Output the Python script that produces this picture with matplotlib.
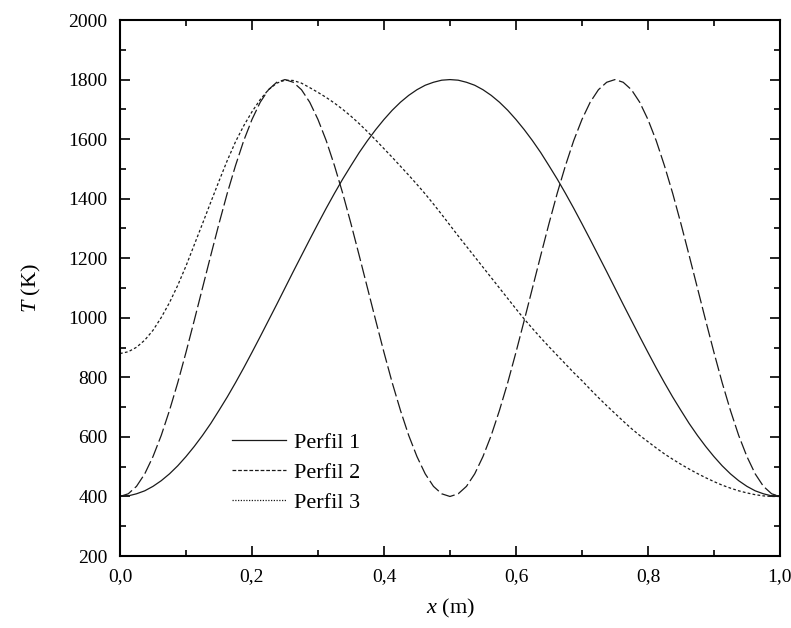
import matplotlib
matplotlib.use("Agg")
import matplotlib.pyplot as plt
from matplotlib.lines import Line2D
from matplotlib.ticker import MultipleLocator

plt.rcParams["font.family"] = ["Liberation Serif", "DejaVu Serif"]
plt.rcParams["mathtext.fontset"] = "custom"
plt.rcParams["mathtext.rm"] = "Liberation Serif"
plt.rcParams["mathtext.it"] = "Liberation Serif:italic"

# positions along x (m), every 0.0125
x = [i / 80 for i in range(81)]

# Perfil 1: single hump, 400 K at the ends, 1800 K at the middle
perfil_1 = [400, 402, 409, 419, 434, 453, 476, 503, 534, 568,
            605, 645, 689, 734, 782, 832, 884, 937, 991, 1045,
            1100, 1155, 1209, 1263, 1316, 1368, 1418, 1466, 1511, 1555,
            1595, 1632, 1666, 1697, 1724, 1747, 1766, 1781, 1791, 1798,
            1800, 1798, 1791, 1781, 1766, 1747, 1724, 1697, 1666, 1632,
            1595, 1555, 1511, 1466, 1418, 1368, 1316, 1263, 1209, 1155,
            1100, 1045, 991, 937, 884, 832, 782, 734, 689, 645,
            605, 568, 534, 503, 476, 453, 434, 419, 409, 402, 400]

# Perfil 2: two humps at x = 0.25 and 0.75
perfil_2 = [400, 409, 434, 476, 534, 605, 689, 782, 884, 991,
            1100, 1209, 1316, 1418, 1511, 1595, 1666, 1724, 1766, 1791,
            1800, 1791, 1766, 1724, 1666, 1595, 1511, 1418, 1316, 1209,
            1100, 991, 884, 782, 689, 605, 534, 476, 434, 409,
            400, 409, 434, 476, 534, 605, 689, 782, 884, 991,
            1100, 1209, 1316, 1418, 1511, 1595, 1666, 1724, 1766, 1791,
            1800, 1791, 1766, 1724, 1666, 1595, 1511, 1418, 1316, 1209,
            1100, 991, 884, 782, 689, 605, 534, 476, 434, 409, 400]

# Perfil 3: starts at 880 K, peak near x = 0.25, slow decay to 400 K
perfil_3 = [880, 886, 901, 925, 958, 1001, 1051, 1109, 1174, 1245,
            1316, 1388, 1459, 1528, 1591, 1645, 1692, 1733, 1766, 1788,
            1798, 1797, 1788, 1773, 1757, 1740, 1721, 1700, 1677, 1652,
            1625, 1597, 1568, 1539, 1509, 1479, 1448, 1416, 1382, 1347,
            1311, 1275, 1240, 1205, 1170, 1135, 1100, 1065, 1030, 996,
            964, 933, 903, 874, 845, 816, 789, 760, 732, 705,
            679, 653, 628, 605, 584, 563, 543, 525, 508, 492,
            477, 463, 450, 438, 428, 419, 412, 406, 402, 400, 400]

labels = ["Perfil 1", "Perfil 2", "Perfil 3"]
xtick_vals = [0.0, 0.2, 0.4, 0.6, 0.8, 1.0]
xtick_labels = ["0,0", "0,2", "0,4", "0,6", "0,8", "1,0"]
ytick_vals = [200, 400, 600, 800, 1000, 1200, 1400, 1600, 1800, 2000]

fig = plt.figure(figsize=(7.91, 6.28), dpi=100)
ax = fig.add_axes([0.1517, 0.1146, 0.8343, 0.8535])

ax.plot(x, perfil_1, color="#1a1a1a", lw=0.9, linestyle="-")
ax.plot(x, perfil_2, color="#1a1a1a", lw=0.9, linestyle=(0, (11, 3)))
ax.plot(x, perfil_3, color="#1a1a1a", lw=0.9, linestyle=(0, (2.2, 1.8)))

ax.set_xlim(0, 1)
ax.set_ylim(200, 2000)
ax.set_xticks(xtick_vals)
ax.set_xticklabels(xtick_labels)
ax.set_yticks(ytick_vals)
ax.xaxis.set_minor_locator(MultipleLocator(0.1))
ax.yaxis.set_minor_locator(MultipleLocator(100))

for s in ax.spines.values():
    s.set_linewidth(1.5)
ax.tick_params(which="both", direction="in", top=True, right=True,
               width=1.2, labelsize=14)
ax.tick_params(which="major", length=7)
ax.tick_params(which="minor", length=4)
ax.tick_params(axis="x", pad=9)
ax.tick_params(axis="y", pad=9)

ax.set_xlabel(r"$x$ (m)", fontsize=16, labelpad=8)
ax.set_ylabel(r"$T$ (K)", fontsize=16, labelpad=18)

handles = [
    Line2D([], [], color="#1a1a1a", lw=0.9, linestyle="-"),
    Line2D([], [], color="#1a1a1a", lw=0.9, linestyle=(0, (3, 1.5))),
    Line2D([], [], color="#1a1a1a", lw=0.9, linestyle=(0, (1, 1.2))),
]
ax.legend(handles, labels, loc="lower left", bbox_to_anchor=(0.17, 0.08),
          frameon=False, fontsize=16, handlelength=2.4, handletextpad=0.4,
          labelspacing=0.43, borderpad=0, borderaxespad=0)

fig.savefig("out.png", dpi=100)
